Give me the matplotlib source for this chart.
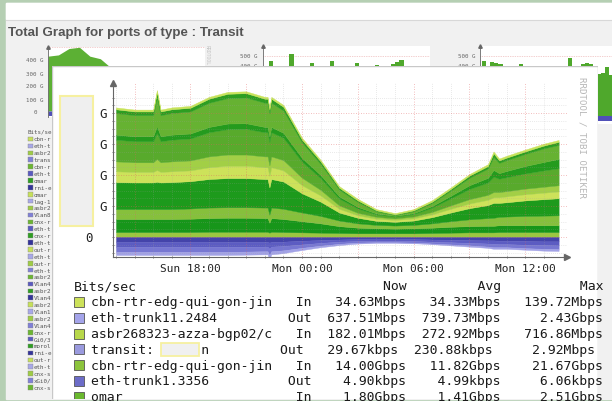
import matplotlib.pyplot as plt
from matplotlib.patches import Rectangle
import numpy as np

plt.rcParams['font.family'] = ['DejaVu Sans Mono', 'DejaVu Sans']

W, H = 612, 402

# main graph, hours relative to Mon 00:00, values in 100 Gbit/s
hours = [-10, -9, -8, -7.8, -7.6, -7, -6, -5, -4, -3, -2, -1.85, -1.75, -1.65, -1, 0,
         1, 2, 3, 4, 5, 6, 7, 8, 9, 10, 10.3, 10.6, 11, 12, 13, 13.8]

in_layers = [
    [.16, .16, .16, .16, .16, .16, .16, .17, .17, .17, .17, .17, .14, .17, .16, .15,
     .14, .13, .12, .12, .12, .12, .13, .14, .15, .15, .15, .16, .16, .16, .16, .16],
    [.42, .42, .42, .42, .42, .42, .43, .44, .45, .45, .44, .44, .32, .44, .42, .36,
     .30, .22, .18, .16, .15, .16, .17, .19, .20, .21, .21, .22, .22, .22, .22, .22],
    [.32, .32, .32, .32, .32, .32, .33, .34, .34, .34, .34, .34, .26, .34, .33, .28,
     .24, .18, .14, .11, .10, .11, .14, .18, .22, .25, .26, .27, .28, .30, .31, .32],
    [.87, .86, .86, .88, .86, .87, .88, .92, .94, .94, .92, .92, .88, .92, .88, .62,
     .46, .26, .18, .13, .12, .14, .20, .28, .36, .42, .48, .45, .46, .50, .53, .55],
    [.35, .34, .34, .38, .34, .35, .35, .38, .40, .40, .38, .38, .37, .38, .36, .26,
     .20, .12, .08, .07, .06, .07, .09, .12, .15, .17, .18, .18, .19, .20, .21, .22],
    [.32, .31, .31, .36, .31, .32, .32, .35, .36, .36, .35, .35, .34, .35, .33, .24,
     .18, .11, .08, .06, .05, .06, .08, .11, .14, .16, .17, .17, .17, .18, .19, .20],
    [.70, .68, .68, .84, .68, .70, .71, .78, .82, .83, .78, .78, .76, .78, .72, .52,
     .38, .22, .14, .08, .06, .08, .14, .23, .33, .40, .50, .43, .45, .49, .53, .55],
    [.16, .16, .16, .21, .16, .16, .16, .17, .18, .18, .17, .17, .17, .17, .16, .12,
     .10, .07, .05, .03, .02, .03, .05, .08, .12, .15, .21, .18, .20, .24, .27, .30],
    [.70, .68, .68, .93, .68, .70, .71, .78, .82, .83, .78, .78, .75, .78, .72, .50,
     .36, .22, .16, .07, .03, .06, .10, .17, .24, .30, .42, .33, .35, .39, .44, .45],
    [.12, .12, .12, .17, .12, .12, .12, .13, .14, .14, .13, .13, .12, .13, .12, .09,
     .08, .06, .05, .03, .02, .03, .04, .05, .07, .08, .12, .08, .08, .08, .09, .10],
    [.06, .06, .06, .07, .06, .06, .06, .06, .06, .06, .06, .06, .06, .06, .06, .06,
     .05, .05, .05, .04, .04, .04, .05, .05, .05, .06, .06, .06, .06, .06, .06, .06],
]
in_colors = ['#9cc641', '#17961a', '#86c03c', '#1d9a1c', '#cde25a', '#a2cf46',
             '#58aa2c', '#249b1e', '#66b232', '#2d9e22', '#c8e35a']

out_layers = [
    [.16, .16, .16, .16, .16, .16, .16, .16, .16, .16, .16, .16, .18, .16, .15, .12,
     .10, .08, .07, .07, .07, .07, .08, .09, .10, .11, .11, .12, .12, .13, .14, .14],
    [.16, .16, .16, .16, .16, .16, .16, .16, .16, .16, .15, .15, .20, .15, .14, .12,
     .09, .07, .06, .06, .06, .06, .07, .08, .09, .10, .11, .11, .11, .12, .12, .13],
    [.16, .16, .16, .16, .16, .16, .16, .16, .16, .15, .15, .15, .22, .15, .14, .11,
     .09, .07, .05, .04, .04, .05, .06, .07, .08, .10, .11, .10, .10, .11, .12, .12],
    [.10, .10, .10, .10, .10, .10, .10, .10, .10, .10, .10, .10, .12, .10, .09, .07,
     .05, .04, .03, .02, .02, .02, .02, .03, .04, .04, .05, .05, .05, .05, .06, .06],
]
out_colors = ['#4444aa', '#5c5cc2', '#7777d2', '#a2a2e6']

tick_hours = [-9, -6, -3, 0, 3, 6, 9, 12]
tick_labels = ['', 'Sun 18:00', '', 'Mon 00:00', '', 'Mon 06:00', '', 'Mon 12:00']

# legend table of the popup
leg_names = ['cbn-rtr-edg-qui-gon-jin', 'eth-trunk11.2484', 'asbr268323-azza-bgp02/c',
             'transit:      n', 'cbn-rtr-edg-qui-gon-jin', 'eth-trunk1.3356', 'omar']
leg_pad = [23, 23, 23, 22, 23, 23, 23]
leg_dir = ['In', 'Out', 'In', 'Out', 'In', 'Out', 'In']
leg_now = ['34.63Mbps', '637.51Mbps', '182.01Mbps', '29.67kbps', '14.00Gbps', '4.90kbps', '1.80Gbps']
leg_avg = ['34.33Mbps', '739.73Mbps', '272.92Mbps', '230.88kbps', '11.82Gbps', '4.99kbps', '1.41Gbps']
leg_max = ['139.72Mbps', '2.43Gbps', '716.86Mbps', '2.92Mbps', '21.67Gbps', '6.06kbps', '2.51Gbps']
leg_colors = ['#cde25a', '#a4a4ea', '#b8d84a', '#9a9ade', '#8cc43c', '#6c6cc8', '#6ab82e']

# background thumbnails (partly hidden by the popup)
thumb1_in = [4.3, 4.4, 4.9, 5.0, 4.3, 4.1, 3.4, 3.0, 2.5, 2.0, 1.6, 1.3, 1.5, 2.0, 2.6, 3.0]
thumb1_out = [.35, .35, .35, .35, .35, .35, .3, .3, .25, .2, .2, .2, .2, .25, .3, .3]
thumb2_in = [3.6, 3.6, 4.5, 3.6, 3.6, 3.6, 3.6, 5.2, 3.6, 3.6, 3.6, 3.6, 4.3, 3.6, 3.6, 3.6, 3.6, 4.5,
             3.6, 3.6, 3.6, 3.6, 3.6, 4.3, 3.6, 3.6, 3.6, 3.6, 4.1, 3.6, 3.6, 3.6, 4.2, 4.4, 4.6,
             3.6, 3.6, 3.6, 3.6, 3.6, 3.6, 3.6]
thumb3_in = [3.0, 4.6, 3.0, 4.5, 4.4, 4.3, 3.0, 3.0, 3.0, 3.0, 4.3, 4.2, 3.0, 3.0, 3.0, 3.0, 3.0, 3.0,
             3.0, 3.0, 3.0, 3.0, 4.8, 3.0, 3.0, 4.3, 4.4, 4.3, 3.0, 3.5, 3.6, 4.1, 3.4, 4.2, 3.8, 3.9,
             4.0, 3.7, 3.9, 4.0]
thumb3_out = [.45] * 40
thumb_leg = ['cbn-r', 'eth-t', 'asbr2', 'trans', 'cbn-r', 'eth-t', 'omar', 'rni-e', 'omar', 'lag-1',
             'asbr2', 'Vlan8', 'cnx-r', 'eth-t', 'cnx-r', 'eth-t', 'out-r', 'eth-t', 'out-r', 'eth-t',
             'asbr2', 'Vlan4', 'asbr2', 'Vlan4', 'asbr2', 'Vlan1', 'asbr2', 'Vlan4', 'cnx-r', 'Gi0/3',
             'morol', 'rni-e', 'out-r', 'eth-t', 'cnx-s', 'xGi0/', 'cnx-s']

fig = plt.figure(figsize=(W / 100, H / 100), dpi=100, facecolor='#b5cfb3')


def px_axes(x0, y0, x1, y1, z):
    a = fig.add_axes([x0 / W, 1 - y1 / H, (x1 - x0) / W, (y1 - y0) / H])
    a.set_zorder(z)
    return a


# page
page = px_axes(0, 0, W, H, 0)
page.set_xlim(0, W)
page.set_ylim(H, 0)
page.axis('off')
page.add_patch(Rectangle((6, 4), W, 396, color='#f1f1f1'))
page.add_patch(Rectangle((6, 4), W, 16, color='white'))
page.plot([6, W], [20.5, 20.5], color='#d8d8d8', lw=0.8)
page.text(8, 33, 'Total Graph for ports of type : Transit', family='Liberation Sans',
          fontweight='bold', fontsize=9.6, color='#555555', va='center')

for lab, yy in zip(['400 G', '300 G', '200 G', '100 G'], [61, 74, 87, 100]):
    page.text(44, yy, lab, fontsize=4.2, color='#666', ha='right', va='center')
page.text(35, 112, '0', fontsize=4.2, color='#666', ha='center', va='center')
for xx in [258, 475]:
    page.text(xx, 57, '500 G', fontsize=4.2, color='#666', ha='right', va='center')
    page.text(xx, 67, '400 G', fontsize=4.2, color='#666', ha='right', va='center')
for xx in [207, 422]:
    page.text(xx, 45, 'RRDTOOL', fontsize=3.5, color='#c4c4c4', rotation=270, ha='center', va='top')

page.text(28, 132, 'Bits/se', fontsize=4.2, color='#555', va='center')
greens = ['#c6e05a', '#9fcc45', '#6cb632', '#2f9e22']
blues = ['#a8a8e8', '#8080d8', '#5a5ac0', '#33339a']
for i, nm in enumerate(thumb_leg):
    yy = 140 + 6.9 * i
    blue = nm[:2] in ('et', 'tr', 'Vl', 'Gi', 'xG', 'la', 'rn')
    col = (blues if blue else greens)[(i // 2) % 4]
    page.add_patch(Rectangle((28, yy - 2.3), 4.6, 4.6, fc=col, ec='#888', lw=0.3))
    page.text(34, yy, nm, fontsize=4.2, color='#555', va='center')

# thumbnails
t1 = px_axes(48, 48, 205, 118, 1)
t1.fill_between(range(len(thumb1_in)), thumb1_in, color='#5cb034', lw=0)
t1.fill_between(range(len(thumb1_out)), [-v for v in thumb1_out], color='#5050b8', lw=0)
t1.set_xlim(0, len(thumb1_in) - 1)
t1.set_ylim(-0.47, 5.02)

t2 = px_axes(263, 47, 430, 107, 1)
t2.fill_between(range(len(thumb2_in)), thumb2_in, step='mid', color='#4fa82c', lw=0)
t2.set_xlim(0, len(thumb2_in) - 1)
t2.set_ylim(0, 6.0)

t3 = px_axes(480, 47, 640, 125, 1)
t3.fill_between(range(len(thumb3_in)), thumb3_in, step='mid', color='#4fa82c', lw=0)
t3.fill_between(range(len(thumb3_out)), [-v for v in thumb3_out], step='mid', color='#5050b8', lw=0)
t3.set_xlim(0, len(thumb3_in) - 1)
t3.set_ylim(-0.667, 5.833)

for t in (t1, t2, t3):
    t.set_facecolor('white')
    t.set_xticks([])
    t.set_yticks([])
    t.spines[['top', 'right', 'bottom']].set_visible(False)
    t.spines['left'].set_color('#666')
    t.spines['left'].set_linewidth(0.6)
    t.axhline(5.0, color='#e8a0a0', lw=0.5, ls=(0, (1, 1.5)), zorder=0)
    t.plot([0], [1], marker='^', ms=2.5, color='#666', transform=t.transAxes, clip_on=False)

# popup
pop = px_axes(52, 67, 598, 400, 2)
pop.set_xlim(52, 598)
pop.set_ylim(400, 67)
pop.axis('off')
card = Rectangle((52, 67), 546, 340, fc='white', ec='#c8c8c8', lw=1.0)
pop.add_patch(card)
pop.add_patch(Rectangle((60, 97), 33, 130, fc='#efefef', ec='#f6f0a0', lw=1.5))
for yy in [115, 146, 177, 208]:
    pop.text(103, yy, 'G', fontsize=9, ha='center', va='center', color='#222')
pop.text(89, 239, '0', fontsize=9, ha='center', va='center', color='#222')
pop.text(582, 138, 'RRDTOOL / TOBI OETIKER', fontsize=6.6, color='#b8b8b8',
         rotation=270, ha='center', va='center')

fs = 9.45
cw = fs / 72 * 100 * 0.6021  # monospace advance in pixels
pop.text(74, 287, 'Bits/sec', fontsize=fs, va='center', color='#1a1a1a')
hdr = pop.text(91 + 37 * cw, 287, 'Now' + ' ' * 9 + 'Avg' + ' ' * 10 + 'Max',
               fontsize=fs, va='center', color='#1a1a1a')
hdr.set_clip_path(card)
for i in range(len(leg_names)):
    yy = 303 + 15.8 * i
    row = f"{leg_names[i]:<{leg_pad[i]}}{leg_dir[i]:>5}{leg_now[i]:>12}{leg_avg[i]:>12}{leg_max[i]:>13}"
    pop.add_patch(Rectangle((74, yy - 5), 10, 10, fc=leg_colors[i], ec='#555', lw=0.6))
    txt = pop.text(91, yy, row, fontsize=fs, va='center', color='#1a1a1a')
    txt.set_clip_path(card)
pop.add_patch(Rectangle((161, 344), 38, 13, fc='#f0f0f0', ec='#f6f0a0', lw=1.3))

# main graph
ax = px_axes(113, 84, 567, 258, 3)
ax.set_facecolor('none')
ax.stackplot(hours, *in_layers, colors=in_colors, lw=0.3, edgecolor='face')
ax.stackplot(hours, *[[-v for v in layer] for layer in out_layers], colors=out_colors,
             lw=0.3, edgecolor='face')
ax.set_xlim(-10.16, 14.25)
ax.set_ylim(-0.645, 4.968)
ax.set_xticks(tick_hours, tick_labels)
ax.set_xticks(range(-10, 14), minor=True)
ax.set_yticks([0, 1, 2, 3, 4], [])
ax.set_yticks(np.arange(-0.5, 4.6, 0.25), minor=True)
ax.set_axisbelow(False)
ax.grid(which='major', color='#e06060', ls=(0, (1, 2)), lw=0.6, alpha=0.55)
ax.grid(which='minor', color='#a0a0a0', ls=(0, (1, 2)), lw=0.5, alpha=0.45)
ax.tick_params(which='both', length=2, width=0.6, color='#666', direction='inout')
ax.tick_params(axis='x', labelsize=8, pad=3.5, labelcolor='#222')
ax.spines[['top', 'right']].set_visible(False)
for s in ('left', 'bottom'):
    ax.spines[s].set_color('#666')
    ax.spines[s].set_linewidth(0.8)
ax.plot([0], [1], marker='^', ms=5, color='#666', transform=ax.transAxes, clip_on=False)
ax.plot([1], [0], marker='>', ms=5, color='#666', transform=ax.transAxes, clip_on=False)

fig.savefig('out.png', dpi=100, facecolor=fig.get_facecolor())
